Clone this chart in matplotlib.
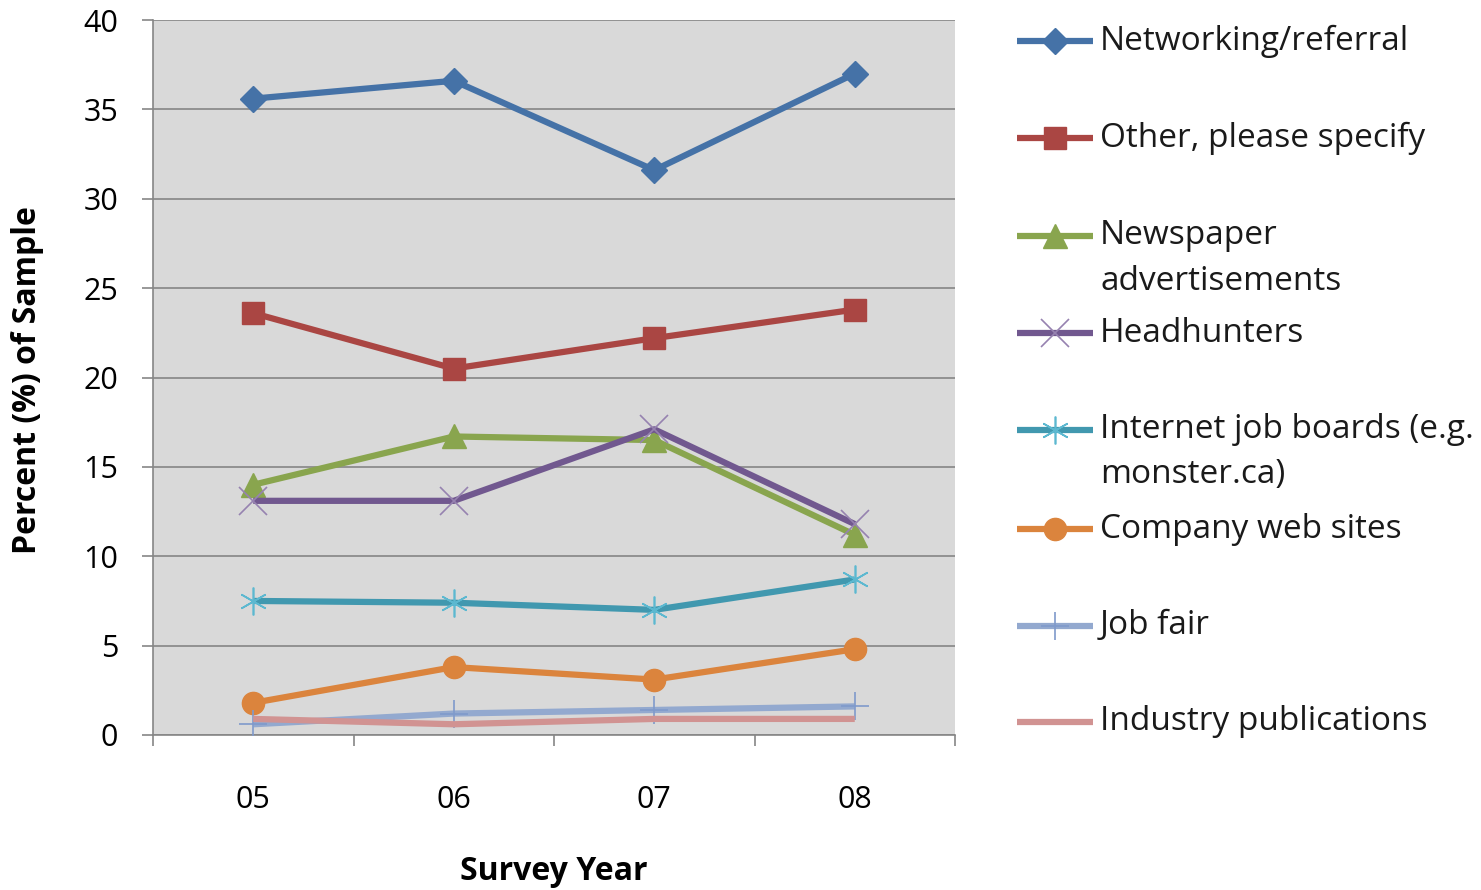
import matplotlib
matplotlib.use("Agg")
import matplotlib.pyplot as plt
import numpy as np

plt.rcParams['font.family'] = ['Open Sans', 'DejaVu Sans']

years = ["05", "06", "07", "08"]
networking = [35.6, 36.6, 31.6, 37.0]
other = [23.6, 20.5, 22.2, 23.8]
newspaper = [14.0, 16.7, 16.5, 11.2]
headhunters = [13.1, 13.1, 17.1, 11.8]
internet = [7.5, 7.4, 7.0, 8.7]
company = [1.8, 3.8, 3.1, 4.8]
jobfair = [0.6, 1.2, 1.4, 1.6]
industry = [0.9, 0.6, 0.9, 0.9]

series = [
    ("Networking/referral", networking, "#4572A7", dict(marker="D", markersize=13, mec="#4572A7", mfc="#4572A7")),
    ("Other, please specify", other, "#AA4643", dict(marker="s", markersize=16, mec="#AA4643", mfc="#AA4643")),
    ("Newspaper\nadvertisements", newspaper, "#89A54E", dict(marker="^", markersize=17, mec="#89A54E", mfc="#89A54E")),
    ("Headhunters", headhunters, "#71588F", dict(marker="x", markersize=20, mec="#9682B0", mew=1.2)),
    ("Internet job boards (e.g.\nmonster.ca)", internet, "#4198AF", dict(marker=(6, 2, 0), markersize=20, mec="#5CB8D0", mew=1.2)),
    ("Company web sites", company, "#DB843D", dict(marker="o", markersize=16, mec="#DB843D", mfc="#DB843D")),
    ("Job fair", jobfair, "#93A9CF", dict(marker="+", markersize=20, mec="#7F9ACB", mew=1.2)),
    ("Industry publications", industry, "#D19392", dict(marker=None)),
]

W, H = 1481, 890
fig = plt.figure(figsize=(W / 100, H / 100), dpi=100)
ax = fig.add_axes([153 / W, 1 - 735 / H, (955 - 153) / W, (735 - 20) / H])
ax.set_facecolor("#D9D9D9")

x = np.arange(len(years)) + 0.5
for name, vals, col, mk in series:
    ax.plot(x, vals, color=col, lw=4.5, solid_capstyle="butt", zorder=3, **mk)

ax.set_xlim(0, 4)
ax.set_ylim(0, 40)
ax.set_yticks(np.arange(0, 41, 5))
ax.grid(axis="y", color="#868686", lw=1.2, zorder=1)
ax.set_axisbelow(True)
ax.set_xticks(x)
ax.set_xticklabels(years)
ax.set_xticks(np.arange(0, 5), minor=True)
ax.tick_params(axis="x", which="major", length=0, pad=36, labelsize=22)
ax.tick_params(axis="x", which="minor", length=8, color="#868686", width=1.2)
ax.tick_params(axis="y", length=8, color="#868686", width=1.2, pad=17, labelsize=22)
for s in ["top", "right"]:
    ax.spines[s].set_visible(False)
for s in ["left", "bottom"]:
    ax.spines[s].set_color("#868686")
    ax.spines[s].set_linewidth(1.2)

fig.text(28 / W, 1 - 380 / H, "Percent (%) of Sample", rotation=90, ha="center", va="center",
         fontsize=23, fontweight="bold")
fig.text(554 / W, 1 - 872 / H, "Survey Year", ha="center", va="center", fontsize=23, fontweight="bold")

# legend drawn in pixel coordinates
lax = fig.add_axes([0, 0, 1, 1])
lax.set_xlim(0, W)
lax.set_ylim(H, 0)
lax.axis("off")
legend_y = [41, 138, 236, 333, 430, 529, 626, 722]
for (name, vals, col, mk), ly in zip(series, legend_y):
    lax.plot([1017, 1093], [ly, ly], color=col, lw=4.5, solid_capstyle="butt")
    if mk.get("marker"):
        lax.plot([1055], [ly], color=col, lw=0, **mk)
    for i, line in enumerate(name.split("\n")):
        lax.text(1100, ly + i * 45, line, ha="left", va="center", fontsize=24, color="#1A1A1A")

fig.savefig("out.png", dpi=100)
